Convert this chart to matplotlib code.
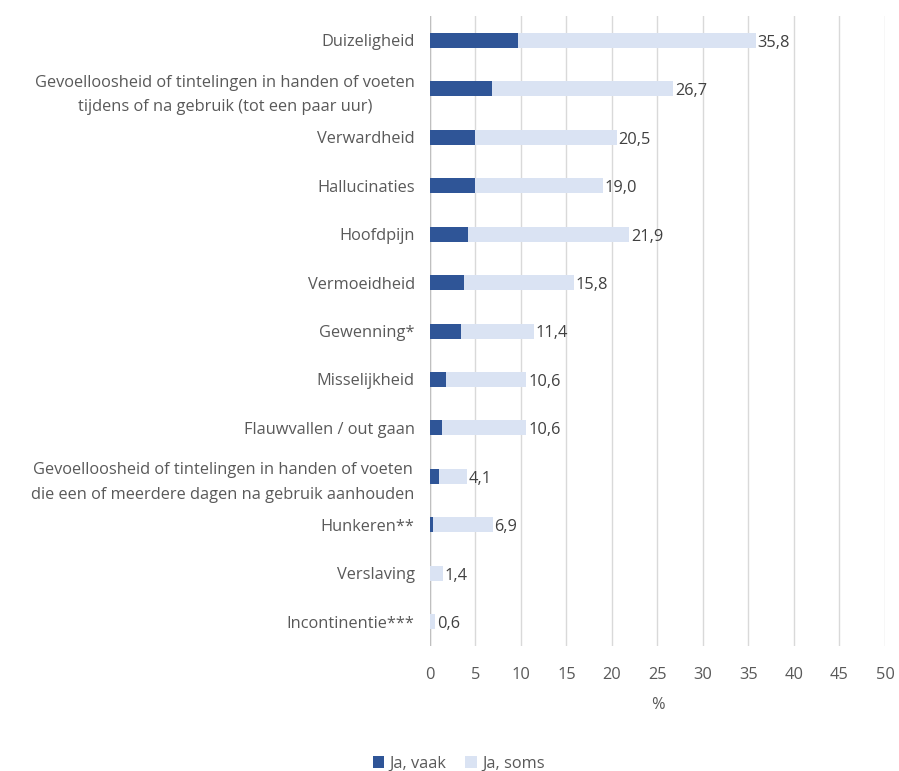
import numpy as np
import matplotlib.pyplot as plt

categories = [
    "Duizeligheid",
    "Gevoelloosheid of tintelingen in handen of voeten\ntijdens of na gebruik (tot een paar uur)",
    "Verwardheid",
    "Hallucinaties",
    "Hoofdpijn",
    "Vermoeidheid",
    "Gewenning*",
    "Misselijkheid",
    "Flauwvallen / out gaan",
    "Gevoelloosheid of tintelingen in handen of voeten\ndie een of meerdere dagen na gebruik aanhouden",
    "Hunkeren**",
    "Verslaving",
    "Incontinentie***",
]
ja_vaak = [9.7, 6.8, 5.0, 5.0, 4.2, 3.7, 3.4, 1.8, 1.3, 1.0, 0.3, 0.0, 0.0]
totaal = [35.8, 26.7, 20.5, 19.0, 21.9, 15.8, 11.4, 10.6, 10.6, 4.1, 6.9, 1.4, 0.6]
ja_soms = [round(t - v, 1) for t, v in zip(totaal, ja_vaak)]

dark = "#2F5597"
light = "#DAE3F3"
text_col = "#595959"
fs = 11.8

plt.rcParams["font.family"] = ["Open Sans", "DejaVu Sans"]

fig = plt.figure(figsize=(8.99, 7.71), dpi=100)
ax = fig.add_axes([0.4783, 0.1621, 0.5061, 0.8171])

y = np.arange(len(categories))
h = 0.31
ax.barh(y, ja_vaak, height=h, color=dark, label="Ja, vaak", zorder=3)
ax.barh(y, ja_soms, left=ja_vaak, height=h, color=light, label="Ja, soms", zorder=3)

for yi, t in zip(y, totaal):
    ax.text(t + 0.2, yi + 0.05, f"{t:.1f}".replace(".", ","), va="center", ha="left",
            fontsize=fs, color="#404040", zorder=4)

ax.set_xlim(0, 50)
ax.set_ylim(len(categories) - 0.5, -0.5)
ax.set_xticks(np.arange(0, 51, 5))
ax.set_yticks(y)
ax.set_yticklabels(categories)
for lab in ax.get_yticklabels():
    lab.set_multialignment("center")
    lab.set_linespacing(1.7)

ax.tick_params(axis="x", length=0, labelsize=fs, labelcolor=text_col, pad=15)
ax.tick_params(axis="y", length=0, labelsize=fs, labelcolor=text_col, pad=11)
ax.grid(axis="x", color="#D9D9D9", linewidth=1, zorder=0)
for s in ax.spines.values():
    s.set_visible(False)
ax.axvline(0, color="#BFBFBF", linewidth=1, zorder=2)

ax.set_xlabel("%", fontsize=fs, color=text_col, labelpad=10)

fig.legend(loc="lower center", bbox_to_anchor=(0.51, -0.02), ncol=2, frameon=False,
           fontsize=fs, labelcolor=text_col, handlelength=0.7, handleheight=0.7,
           handletextpad=0.3, columnspacing=1.2)

fig.savefig("out.png", dpi=100)
